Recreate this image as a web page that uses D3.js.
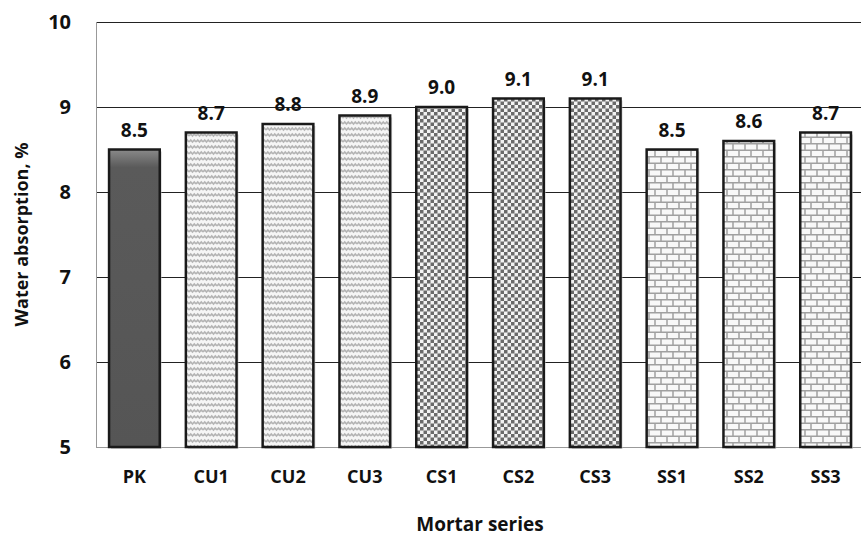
<!DOCTYPE html>
<html lang="en">
<head>
<meta charset="utf-8">
<title>Water absorption</title>
<script src="https://cdn.jsdelivr.net/npm/d3@7/dist/d3.min.js"></script>
<style>
  body { margin: 0; background: #fff; }
  text { font-family: "Open Sans", "Liberation Sans", sans-serif; font-weight: bold; fill: #111; }
  .grid line { stroke: #222; stroke-width: 1; shape-rendering: crispEdges; }
  .grid path { stroke-width: 0; }
</style>
</head>
<body>
<script>
  var categories = ["PK", "CU1", "CU2", "CU3", "CS1", "CS2", "CS3", "SS1", "SS2", "SS3"];
  var values = [8.5, 8.7, 8.8, 8.9, 9.0, 9.1, 9.1, 8.5, 8.6, 8.7];
  var fills = ["solid", "wave", "wave", "wave", "checker", "checker", "checker", "brick", "brick", "brick"];
  var yTicks = [5, 6, 7, 8, 9, 10];

  var w = 861, h = 544;
  var pLeft = 96, pRight = 864, pTop = 22, pBottom = 447;

  var svg = d3.select("body").append("svg")
    .attr("width", w).attr("height", h);

  var defs = svg.append("defs");

  // zigzag pattern
  var wave = defs.append("pattern").attr("id", "wave")
    .attr("patternUnits", "userSpaceOnUse").attr("width", 7).attr("height", 6);
  wave.append("rect").attr("width", 7).attr("height", 6).attr("fill", "#f6f6f6");
  wave.append("path").attr("d", "M0,4 L1.75,2 L3.5,4 L5.25,2 L7,4")
    .attr("fill", "none").attr("stroke", "#b4b4b4").attr("stroke-width", 1.6);

  // checkerboard pattern
  var checker = defs.append("pattern").attr("id", "checker")
    .attr("patternUnits", "userSpaceOnUse").attr("width", 7).attr("height", 7);
  checker.append("rect").attr("width", 7).attr("height", 7).attr("fill", "#f2f2f2");
  checker.append("rect").attr("width", 3.5).attr("height", 3.5).attr("fill", "#6a6a6a");
  checker.append("rect").attr("x", 3.5).attr("y", 3.5).attr("width", 3.5).attr("height", 3.5).attr("fill", "#6a6a6a");

  // brick pattern
  var brick = defs.append("pattern").attr("id", "brick")
    .attr("patternUnits", "userSpaceOnUse").attr("width", 12).attr("height", 13);
  brick.append("rect").attr("width", 12).attr("height", 13).attr("fill", "#f8f8f8");
  brick.append("path").attr("d", "M0,0.75 H12 M0,7.25 H12 M1,0.75 V7.25 M7,7.25 V13")
    .attr("fill", "none").attr("stroke", "#a0a0a0").attr("stroke-width", 1.5);

  // solid bar gradient
  var grad = defs.append("linearGradient").attr("id", "solid")
    .attr("x1", 0).attr("y1", 0).attr("x2", 0).attr("y2", 1);
  grad.append("stop").attr("offset", "0%").attr("stop-color", "#8a8a8a");
  grad.append("stop").attr("offset", "6%").attr("stop-color", "#5a5a5a");
  grad.append("stop").attr("offset", "100%").attr("stop-color", "#555");

  var x = d3.scaleBand().domain(categories).range([pLeft, pRight]).paddingInner(0.34).paddingOuter(0.17);
  var y = d3.scaleLinear().domain([5, 10]).range([pBottom, pTop]);

  // gridlines
  svg.append("g").attr("class", "grid")
    .attr("transform", "translate(" + pLeft + ",0)")
    .call(d3.axisLeft(y).tickValues(yTicks.slice(1)).tickSize(-(pRight - pLeft)).tickFormat(""));

  // left and bottom axis lines
  svg.append("line").attr("x1", pLeft + 0.5).attr("x2", pLeft + 0.5).attr("y1", pTop).attr("y2", pBottom)
    .attr("stroke", "#999");
  svg.append("line").attr("x1", pLeft).attr("x2", pRight).attr("y1", pBottom + 0.5).attr("y2", pBottom + 0.5)
    .attr("stroke", "#999");

  // y tick labels
  svg.selectAll(".ytick").data(yTicks).enter().append("text")
    .attr("x", 71).attr("y", function (d) { return y(d); })
    .attr("dy", "0.35em").attr("text-anchor", "end")
    .style("font-size", "20px")
    .text(function (d) { return d; });

  // x tick labels
  svg.selectAll(".xtick").data(categories).enter().append("text")
    .attr("x", function (d) { return x(d) + x.bandwidth() / 2; })
    .attr("y", 483).attr("text-anchor", "middle")
    .style("font-size", "18px")
    .text(function (d) { return d; });

  var data = categories.map(function (c, i) { return { c: c, v: values[i], f: fills[i] }; });

  // bar shadows
  svg.selectAll(".shadow").data(data).enter().append("rect")
    .attr("x", function (d) { return x(d.c) + 2; })
    .attr("y", function (d) { return y(d.v) + 2; })
    .attr("width", x.bandwidth())
    .attr("height", function (d) { return y(5) - y(d.v); })
    .attr("fill", "#bbb").attr("opacity", 0.6);

  // bars
  svg.selectAll(".bar").data(data).enter().append("rect")
    .attr("x", function (d) { return x(d.c); })
    .attr("y", function (d) { return y(d.v); })
    .attr("width", x.bandwidth())
    .attr("height", function (d) { return y(5) - y(d.v); })
    .attr("fill", function (d) { return "url(#" + d.f + ")"; })
    .attr("stroke", "#1a1a1a").attr("stroke-width", 2.5);

  // value labels
  svg.selectAll(".val").data(data).enter().append("text")
    .attr("x", function (d) { return x(d.c) + x.bandwidth() / 2; })
    .attr("y", function (d) { return y(d.v) - 13; })
    .attr("text-anchor", "middle")
    .style("font-size", "19px")
    .text(function (d) { return d.v.toFixed(1); });

  // axis titles
  svg.append("text")
    .attr("transform", "translate(28," + ((pTop + pBottom) / 2) + ") rotate(-90)")
    .attr("text-anchor", "middle").style("font-size", "18px")
    .text("Water absorption, %");

  svg.append("text")
    .attr("x", (pLeft + pRight) / 2).attr("y", 531)
    .attr("text-anchor", "middle").style("font-size", "19px")
    .text("Mortar series");
</script>
</body>
</html>
